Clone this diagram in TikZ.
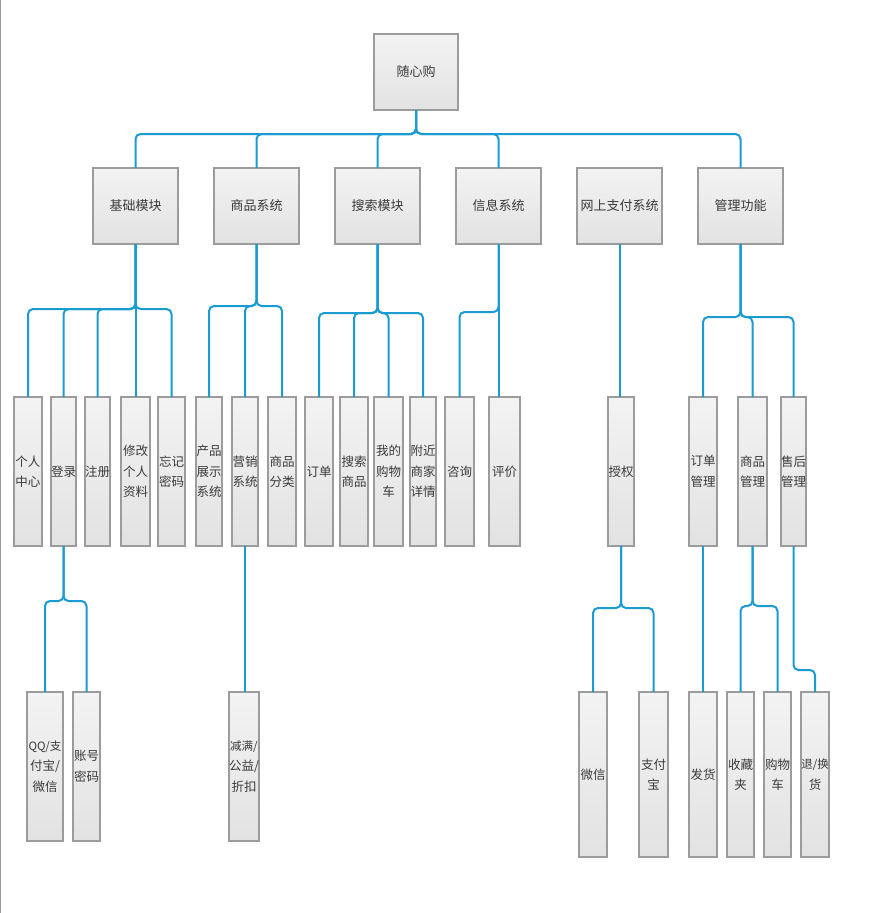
\documentclass[tikz,border=0pt]{standalone}
\usepackage{fontspec}
\setmainfont{Noto Sans CJK SC}
\definecolor{lineblue}{HTML}{1A9BD1}
\definecolor{boxborder}{HTML}{9C9C9C}
\definecolor{txt}{HTML}{3A3A3A}
\definecolor{boxtop}{HTML}{F3F3F3}
\definecolor{boxbot}{HTML}{E2E2E2}
\newcommand\bx[6]{\node[box, minimum width={(#4-#2)*1pt}, minimum height={(#5-#3)*1pt}] (#1) at ({(#2+#4)/2},{(#3+#5)/2}) {#6};}
\newcommand\cn[3]{\draw[conn] (#1.south) -- (#1.south |- 0,#3) -- (#2.north |- 0,#3) -- (#2.north);}
\newcommand\st[2]{\draw[conn] (#1.south) -- (#1.south |- #2.north);}
\newcommand\smf{\fontsize{11.5}{20.5}\selectfont}
\begin{document}
\begin{tikzpicture}[x=1pt,y=-1pt,
  box/.style={draw=boxborder, line width=1.2pt, top color=boxtop, bottom color=boxbot,
    inner sep=0pt, outer sep=0pt, align=center, text=txt,
    font=\fontsize{12.5}{20.5}\selectfont},
  conn/.style={draw=lineblue, line width=2pt, rounded corners=5pt}]
\useasboundingbox (0,0) rectangle (869,913);
\fill[white] (0,0) rectangle (869,913);
\draw[gray!80, line width=1.2pt] (0.6,0) -- (0.6,913);
% level 1
\bx{root}{374}{34}{458}{110}{\fontsize{13}{20}\selectfont 随心购}
% level 2
\bx{jc}{93}{168}{178}{244}{\fontsize{13}{20}\selectfont 基础模块}
\bx{sp}{214}{168}{299}{244}{\fontsize{13}{20}\selectfont 商品系统}
\bx{ss}{335}{168}{420}{244}{\fontsize{13}{20}\selectfont 搜索模块}
\bx{xx}{456}{168}{541}{244}{\fontsize{13}{20}\selectfont 信息系统}
\bx{zf}{577}{168}{662}{244}{\fontsize{13}{20}\selectfont 网上支付系统}
\bx{gl}{698}{168}{783}{244}{\fontsize{13}{20}\selectfont 管理功能}
% level 3
\bx{grzx}{14}{397}{42}{546}{个人\\中心}
\bx{dl}{51}{397}{76}{546}{登录}
\bx{zc}{85}{397}{110}{546}{注册}
\bx{xg}{121}{397}{150}{546}{修改\\个人\\资料}
\bx{wj}{158}{397}{185}{546}{忘记\\密码}
\bx{cp}{196}{397}{222}{546}{产品\\展示\\系统}
\bx{yx}{232}{397}{258}{546}{营销\\系统}
\bx{fl}{268}{397}{296}{546}{商品\\分类}
\bx{dd}{305}{397}{333}{546}{订单}
\bx{sssp}{340}{397}{368}{546}{搜索\\商品}
\bx{gwc}{374}{397}{403}{546}{我的\\购物\\车}
\bx{fj}{410}{397}{436}{546}{附近\\商家\\详情}
\bx{zx}{445}{397}{474}{546}{咨询}
\bx{pj}{489}{397}{520}{546}{评价}
\bx{sq}{608}{397}{634}{546}{授权}
\bx{ddgl}{689}{397}{717}{546}{订单\\管理}
\bx{spgl}{738}{397}{767}{546}{商品\\管理}
\bx{shgl}{781}{397}{806}{546}{售后\\管理}
% level 4
\bx{qq}{27}{692}{63}{841}{\smf QQ/支\\付宝/\\微信}
\bx{zh}{73}{692}{100}{841}{账号\\密码}
\bx{jm}{230}{692}{258}{841}{\smf 减满/\\公益/\\折扣}
\bx{wx}{579}{692}{607}{857}{微信}
\bx{zfb}{639}{692}{668}{857}{支付\\宝}
\bx{fh}{689}{692}{717}{857}{发货}
\bx{scj}{727}{692}{754}{857}{收藏\\夹}
\bx{gwc2}{764}{692}{791}{857}{购物\\车}
\bx{th}{801}{692}{829}{857}{\smf 退/换\\货}
% connectors
\cn{root}{jc}{134}
\cn{root}{sp}{134}
\cn{root}{ss}{134}
\cn{root}{xx}{134}
\cn{root}{gl}{134}
\cn{jc}{grzx}{309}
\cn{jc}{dl}{309}
\cn{jc}{zc}{309}
\st{jc}{xg}
\cn{jc}{wj}{309}
\cn{sp}{cp}{306}
\cn{sp}{yx}{306}
\cn{sp}{fl}{306}
\cn{ss}{dd}{313}
\cn{ss}{sssp}{313}
\cn{ss}{gwc}{313}
\cn{ss}{fj}{313}
\cn{xx}{zx}{312}
\st{xx}{pj}
\st{zf}{sq}
\cn{gl}{ddgl}{317}
\cn{gl}{spgl}{317}
\cn{gl}{shgl}{317}
\cn{dl}{qq}{601}
\cn{dl}{zh}{601}
\st{yx}{jm}
\cn{sq}{wx}{608}
\cn{sq}{zfb}{608}
\st{ddgl}{fh}
\cn{spgl}{scj}{606}
\cn{spgl}{gwc2}{606}
\cn{shgl}{th}{670}
\end{tikzpicture}
\end{document}
